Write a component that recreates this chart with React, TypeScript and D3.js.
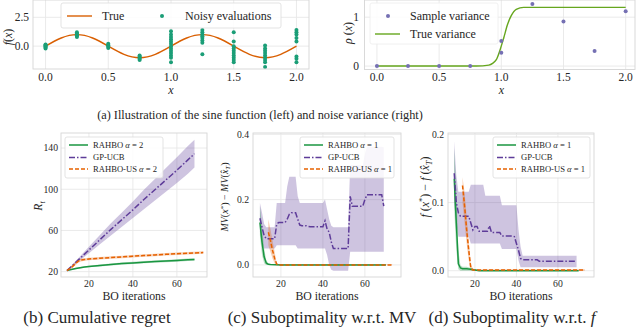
import React from "react";
import * as d3 from "d3";

const FONT = "'Liberation Serif', 'Times New Roman', serif";
const GRID = "#e8e8e8";
const SPINE = "#d6d6d6";
const TXT = "#262626";

// ---------------- (a) left: sine function ----------------
const sineX = [0, 0.125, 0.25, 0.375, 0.5, 0.625, 0.75, 0.875, 1.0, 1.125, 1.25, 1.375, 1.5, 1.625, 1.75, 1.875, 2.0];
const sineY = [0, 0.707, 1, 0.707, 0, -0.707, -1, -0.707, 0, 0.707, 1, 0.707, 0, -0.707, -1, -0.707, 0];
const noisyX = [0, 0.25, 0.5, 0.75, 1.0, 1.25, 1.5, 1.75, 2.0];
const noisyY = [
  [-0.2, -0.1, 0.0, 0.05, 0.1, 0.15],
  [0.8, 0.9, 0.95, 1.0, 1.1, 1.2],
  [-0.15, -0.05, 0.05, 0.1, 0.2],
  [-1.2, -1.1, -1.0, -0.9, -0.8],
  [1.3, 1.0, 0.8, 0.6, 0.4, 0.2, 0.0, -0.2, -0.4, -0.6, -0.8, -1.0, -1.4],
  [1.4, 1.2, 1.0, 0.85, 0.7, 0.5, 0.3, -0.7],
  [1.2, 0.4, 0.0, -0.2, -0.4, -0.6, -0.8, -1.0, -1.2, -1.4],
  [0.05, -0.2, -0.4, -0.6, -0.8, -1.0, -1.2, -1.4, -1.8],
  [1.4, 1.2, 1.0, 0.7, 0.4, -0.9, -1.1, -1.4],
];

// ---------------- (a) right: noise variance ----------------
const varX = [0, 0.25, 0.5, 0.75, 1.0, 1.0, 1.25, 1.5, 1.75, 2.0];
const varY = [0, 0, 0, 0, 0.51, 0.27, 1.27, 0.91, 0.31, 1.12];
const trueVarX = [0, 0.8, 0.9, 0.93, 0.96, 0.99, 1.02, 1.05, 1.08, 1.12, 1.18, 1.3, 2.0];
const trueVarY = [0, 0, 0.02, 0.055, 0.13, 0.33, 0.58, 0.85, 1.03, 1.16, 1.2, 1.2, 1.2];

// ---------------- (b) cumulative regret ----------------
const bIter = [10, 12, 14, 16, 18, 20, 25, 30, 35, 40, 45, 50, 55, 60, 65, 68];
const rahboB = [21, 22, 23, 23.8, 24.5, 25, 26, 27, 27.8, 28.5, 29.2, 29.8, 30.3, 30.8, 31.5, 31.8];
const rahboBLo = [21, 21.5, 22.3, 23, 23.7, 24.2, 25.1, 26, 26.8, 27.5, 28.1, 28.7, 29.2, 29.6, 30.3, 30.6];
const rahboBHi = [21, 22.5, 23.7, 24.6, 25.3, 25.8, 26.9, 28, 28.8, 29.5, 30.3, 30.9, 31.4, 32, 32.7, 33];
const gpB = [21, 25, 29, 33, 37, 41, 51, 61, 70.5, 80, 90, 99.5, 109, 118.5, 128.5, 134.5];
const gpBLo = [21, 24.3, 27.6, 31, 34.4, 37.8, 46.5, 55, 63.5, 72, 80.5, 89, 97.5, 106, 115, 121];
const gpBHi = [21, 25.7, 30.4, 35, 39.6, 44.2, 55.5, 67, 77.5, 88, 99.5, 110, 120.5, 131, 142, 148];
const usIterB = [10, 12, 14, 15, 16, 18, 20, 25, 30, 35, 40, 45, 50, 55, 60, 65, 72];
const usB = [21, 24, 28, 30, 31, 31.8, 32.3, 33, 33.7, 34.3, 35, 35.6, 36.2, 36.8, 37.4, 37.9, 38.5];
const usBLo = [21, 23, 26.5, 28.5, 29.6, 30.6, 31.1, 31.8, 32.5, 33.1, 33.8, 34.4, 35, 35.6, 36.2, 36.7, 37.3];
const usBHi = [21, 25, 29.5, 31.5, 32.4, 33, 33.5, 34.2, 34.9, 35.5, 36.2, 36.8, 37.4, 38, 38.6, 39.1, 39.7];

// ---------------- (c) suboptimality w.r.t. MV ----------------
const gpIterC = d3.range(10, 70);
const gpC = [0.143, 0.115, 0.09, 0.08, 0.08, 0.08, 0.08, 0.08, 0.125, 0.13, 0.13, 0.13, 0.13, 0.14, 0.155, 0.16, 0.16, 0.16, 0.14, 0.122,
  0.12, 0.12, 0.12, 0.118, 0.117, 0.117, 0.117, 0.117, 0.117, 0.117, 0.117, 0.135, 0.11, 0.1, 0.07, 0.05, 0.05, 0.05, 0.05, 0.05,
  0.05, 0.05, 0.05, 0.21, 0.18, 0.18, 0.18, 0.18, 0.18, 0.18, 0.2, 0.215, 0.215, 0.215, 0.215, 0.215, 0.215, 0.215, 0.215, 0.18];
const gpCLo = [0.1, 0.07, 0.05, 0.05, 0.05, 0.05, 0.05, 0.05, 0.06, 0.06, 0.06, 0.06, 0.06, 0.06, 0.06, 0.06, 0.06, 0.06, 0.05, 0.05,
  0.05, 0.05, 0.05, 0.05, 0.05, 0.05, 0.05, 0.05, 0.05, 0.05, 0.05, 0.05, 0.03, 0.0, -0.015, -0.018, -0.018, -0.018, -0.018, -0.018,
  -0.018, -0.018, -0.018, 0.04, 0.04, 0.04, 0.04, 0.04, 0.04, 0.04, 0.04, 0.04, 0.04, 0.04, 0.04, 0.04, 0.04, 0.04, 0.04, 0.04];
const gpCHi = [0.19, 0.16, 0.125, 0.115, 0.115, 0.115, 0.115, 0.115, 0.19, 0.19, 0.19, 0.19, 0.19, 0.24, 0.27, 0.27, 0.27, 0.27, 0.21, 0.19,
  0.19, 0.19, 0.19, 0.19, 0.19, 0.19, 0.19, 0.19, 0.19, 0.19, 0.19, 0.2, 0.17, 0.14, 0.12, 0.115, 0.115, 0.115, 0.115, 0.115,
  0.115, 0.115, 0.115, 0.305, 0.305, 0.305, 0.305, 0.305, 0.305, 0.305, 0.34, 0.362, 0.362, 0.362, 0.362, 0.362, 0.362, 0.362, 0.362, 0.36];
const rahboIterC = [10, 11, 12, 13, 14, 15, 20, 30, 40, 50, 60, 70];
const rahboC = [0.13, 0.07, 0.025, 0.006, 0.002, 0.001, 0, 0, 0, 0, 0, 0];
const rahboCLo = [0.09, 0.03, 0.005, 0, 0, 0, 0, 0, 0, 0, 0, 0];
const rahboCHi = [0.18, 0.12, 0.05, 0.015, 0.004, 0.002, 0.001, 0.001, 0.001, 0.001, 0.001, 0.001];
const usIterC = [14, 15, 16, 17, 18, 19, 20, 30, 40, 50, 60, 73];
const usC = [0.1, 0.075, 0.045, 0.02, 0.002, 0, 0, 0, 0, 0, 0, 0];
const usCLo = [0.06, 0.04, 0.02, 0.005, 0, 0, 0, 0, 0, 0, 0, 0];
const usCHi = [0.14, 0.11, 0.075, 0.04, 0.006, 0.002, 0.001, 0.001, 0.001, 0.001, 0.001, 0.001];

// ---------------- (d) suboptimality w.r.t. f ----------------
const gpIterD = d3.range(10, 70);
const gpD = [0.143, 0.1, 0.085, 0.08, 0.08, 0.08, 0.08, 0.08, 0.07, 0.06, 0.065, 0.065, 0.058, 0.058, 0.058, 0.058, 0.058, 0.066, 0.056, 0.056,
  0.056, 0.056, 0.056, 0.051, 0.051, 0.051, 0.051, 0.051, 0.051, 0.05, 0.04, 0.03, 0.018, 0.016, 0.016, 0.016, 0.016, 0.016, 0.016, 0.016,
  0.016, 0.014, 0.014, 0.014, 0.014, 0.014, 0.014, 0.014, 0.014, 0.014, 0.014, 0.014, 0.014, 0.014, 0.014, 0.014, 0.014, 0.014, 0.014, 0.014];
const gpDLo = [0.1, 0.07, 0.05, 0.05, 0.05, 0.05, 0.05, 0.05, 0.04, 0.04, 0.04, 0.04, 0.04, 0.04, 0.04, 0.04, 0.04, 0.04, 0.04, 0.04,
  0.04, 0.04, 0.04, 0.032, 0.032, 0.032, 0.032, 0.032, 0.032, 0.032, 0.032, 0.015, 0.005, 0.005, 0.005, 0.005, 0.005, 0.005, 0.005, 0.005,
  0.005, 0.005, 0.005, 0.005, 0.005, 0.005, 0.005, 0.005, 0.005, 0.005, 0.005, 0.005, 0.005, 0.005, 0.005, 0.005, 0.005, 0.005, 0.005, 0.005];
const gpDHi = [0.19, 0.14, 0.116, 0.116, 0.116, 0.116, 0.116, 0.116, 0.126, 0.126, 0.126, 0.126, 0.126, 0.126, 0.126, 0.11, 0.11, 0.11, 0.11, 0.11,
  0.11, 0.11, 0.11, 0.096, 0.096, 0.096, 0.096, 0.096, 0.096, 0.096, 0.096, 0.06, 0.035, 0.022, 0.022, 0.022, 0.022, 0.022, 0.022, 0.022,
  0.022, 0.022, 0.022, 0.022, 0.022, 0.022, 0.022, 0.022, 0.022, 0.022, 0.022, 0.022, 0.022, 0.022, 0.022, 0.022, 0.022, 0.022, 0.022, 0.022];
const rahboIterD = [10, 11, 12, 13, 14, 16, 18, 20, 22, 30, 40, 50, 60, 70];
const rahboD = [0.135, 0.07, 0.01, 0.004, 0.003, 0.003, 0.002, 0.001, 0, 0, 0, 0, 0, 0];
const rahboDLo = [0.09, 0.03, 0.002, 0, 0, 0, 0, 0, 0, 0, 0, 0, 0, 0];
const rahboDHi = [0.18, 0.12, 0.03, 0.008, 0.006, 0.006, 0.004, 0.002, 0.001, 0.001, 0.001, 0.001, 0.001, 0.001];
const usIterD = [14, 15, 16, 17, 18, 19, 20, 30, 40, 50, 60, 73];
const usD = [0.125, 0.095, 0.06, 0.03, 0.004, 0.001, 0.001, 0.001, 0.001, 0.001, 0.001, 0.001];
const usDLo = [0.1, 0.07, 0.04, 0.015, 0, 0, 0, 0, 0, 0, 0, 0];
const usDHi = [0.137, 0.115, 0.08, 0.045, 0.01, 0.003, 0.002, 0.002, 0.002, 0.002, 0.002, 0.002];

// colours
const C_TRUE = "#d95f02";
const C_NOISY = "#1b9e77";
const C_SVAR = "#7570b3";
const C_TVAR = "#66a61e";
const C_RAHBO = "#1a9641";
const C_GP = "#5e3c99";
const C_US = "#e66101";
const DASH_GP = "6,2,1.5,2";
const DASH_US = "4,2";

type Box = { l: number; t: number; r: number; b: number };
type Sc = d3.ScaleLinear<number, number>;

function Grid({ box, x, y, xt, yt }: { box: Box; x: Sc; y: Sc; xt: number[]; yt: number[] }) {
  return (
    <g>
      <rect x={box.l} y={box.t} width={box.r - box.l} height={box.b - box.t} fill="#fff" />
      {xt.map((v) => (
        <line key={"gx" + v} x1={x(v)} x2={x(v)} y1={box.t} y2={box.b} stroke={GRID} strokeWidth={0.9} />
      ))}
      {yt.map((v) => (
        <line key={"gy" + v} x1={box.l} x2={box.r} y1={y(v)} y2={y(v)} stroke={GRID} strokeWidth={0.9} />
      ))}
    </g>
  );
}

function Ticks({ box, x, y, xt, yt, xf, yf, fs, xBase, yRight }: {
  box: Box; x: Sc; y: Sc; xt: number[]; yt: number[]; xf: (v: number) => string; yf: (v: number) => string; fs: number; xBase: number; yRight: number;
}) {
  return (
    <g fontFamily={FONT} fontSize={fs} fill={TXT}>
      <rect x={box.l} y={box.t} width={box.r - box.l} height={box.b - box.t} fill="none" stroke={SPINE} strokeWidth={0.9} />
      {xt.map((v) => (
        <text key={"tx" + v} x={x(v)} y={xBase} textAnchor="middle">{xf(v)}</text>
      ))}
      {yt.map((v) => (
        <text key={"ty" + v} x={yRight} y={y(v)} dy="0.34em" textAnchor="end">{yf(v)}</text>
      ))}
    </g>
  );
}

function Band({ xs, lo, hi, x, y, color }: { xs: number[]; lo: number[]; hi: number[]; x: Sc; y: Sc; color: string }) {
  const area = d3.area<number>().x((_, i) => x(xs[i])).y0((_, i) => y(lo[i])).y1((_, i) => y(hi[i]));
  return <path d={area(xs) || ""} fill={color} fillOpacity={0.3} stroke="none" />;
}

function Line({ xs, ys, x, y, color, dash, w = 1.5, curve }: { xs: number[]; ys: number[]; x: Sc; y: Sc; color: string; dash?: string; w?: number; curve?: d3.CurveFactory }) {
  const ln = d3.line<number>().x((_, i) => x(xs[i])).y((_, i) => y(ys[i]));
  if (curve) ln.curve(curve);
  return <path d={ln(xs) || ""} fill="none" stroke={color} strokeWidth={w} strokeDasharray={dash} />;
}

function BottomLegend({ x0, y0, w, h, alpha }: { x0: number; y0: number; w: number; h: number; alpha: string }) {
  const items = [
    { label: "RAHBO", color: C_RAHBO, dash: undefined as string | undefined, a: true },
    { label: "GP-UCB", color: C_GP, dash: DASH_GP, a: false },
    { label: "RAHBO-US", color: C_US, dash: DASH_US, a: true },
  ];
  const rows = [8, 20.5, 32];
  return (
    <g fontFamily={FONT} fontSize={8.6} fill={TXT}>
      <rect x={x0} y={y0} width={w} height={h} rx={2} fill="#fff" fillOpacity={0.85} stroke="#dcdcdc" strokeWidth={0.8} />
      {items.map((it, i) => (
        <g key={it.label}>
          <line x1={x0 + 4} x2={x0 + 23} y1={y0 + rows[i]} y2={y0 + rows[i]} stroke={it.color} strokeWidth={1.5} strokeDasharray={it.dash} />
          <text x={x0 + 28} y={y0 + rows[i]} dy="0.34em">
            {it.label}
            {it.a ? (
              <>
                {" "}
                <tspan fontStyle="italic">α</tspan>
                <tspan>{" = " + alpha}</tspan>
              </>
            ) : null}
          </text>
        </g>
      ))}
    </g>
  );
}

export default function App() {
  // ---- (a) left
  const boxA: Box = { l: 33, t: 0, r: 309, b: 69 };
  const xA = d3.scaleLinear().domain([-0.1, 2.1]).range([boxA.l, boxA.r]);
  const yA = d3.scaleLinear().domain([-1.98, 4.0]).range([boxA.b, boxA.t]);
  const xtA = [0, 0.5, 1, 1.5, 2];
  const ytA = [0, 2.5];

  // ---- (a) right
  const boxR: Box = { l: 364.5, t: 0, r: 635, b: 69.5 };
  const xR = d3.scaleLinear().domain([-0.1, 2.075]).range([boxR.l, boxR.r]);
  const yR = d3.scaleLinear().domain([-0.07, 1.35]).range([boxR.b, boxR.t]);
  const ytR = [0, 1];

  // ---- (b)
  const boxB: Box = { l: 61, t: 133, r: 207, b: 277 };
  const xB = d3.scaleLinear().domain([7.3, 73.7]).range([boxB.l, boxB.r]);
  const yB = d3.scaleLinear().domain([14.8, 154.6]).range([boxB.b, boxB.t]);
  const xtB = [20, 40, 60];
  const ytB = [20, 60, 100, 140];

  // ---- (c)
  const boxC: Box = { l: 253, t: 133, r: 401, b: 277 };
  const xC = d3.scaleLinear().domain([6.7, 77.2]).range([boxC.l, boxC.r]);
  const yC = d3.scaleLinear().domain([-0.037, 0.404]).range([boxC.b, boxC.t]);
  const ytC = [0, 0.2, 0.4];

  // ---- (d)
  const boxD: Box = { l: 448, t: 133, r: 594, b: 277 };
  const xD = d3.scaleLinear().domain([7, 77.4]).range([boxD.l, boxD.r]);
  const yD = d3.scaleLinear().domain([-0.0092, 0.202]).range([boxD.b, boxD.t]);
  const ytD = [0, 0.1, 0.2];

  const f1 = (v: number) => v.toFixed(1);
  const f0 = (v: number) => String(v);

  return (
    <svg width={640} height={328} viewBox="0 0 640 328" style={{ position: "absolute", left: 0, top: 0, background: "#fff" }}>
      <rect width={640} height={328} fill="#fff" />

      {/* ===== (a) left ===== */}
      <Grid box={boxA} x={xA} y={yA} xt={xtA} yt={ytA} />
      <Line xs={sineX} ys={sineY} x={xA} y={yA} color={C_TRUE} w={1.4} curve={d3.curveNatural} />
      {noisyX.map((xv, i) =>
        noisyY[i].map((yv, j) => <circle key={`n${i}-${j}`} cx={xA(xv)} cy={yA(yv)} r={2} fill={C_NOISY} />)
      )}
      <Ticks box={boxA} x={xA} y={yA} xt={xtA} yt={ytA} xf={f1} yf={f1} fs={11.5} xBase={81} yRight={29} />
      <g fontFamily={FONT} fill={TXT}>
        <rect x={61} y={3} width={220} height={25} rx={2} fill="#fff" fillOpacity={0.85} stroke="#dcdcdc" strokeWidth={0.8} />
        <line x1={67} x2={92} y1={16} y2={16} stroke={C_TRUE} strokeWidth={1.4} />
        <text x={102} y={16} dy="0.34em" fontSize={12}>True</text>
        <circle cx={162} cy={16} r={2} fill={C_NOISY} />
        <text x={185} y={16} dy="0.34em" fontSize={12}>Noisy evaluations</text>
        <text x={xA(1)} y={94} textAnchor="middle" fontSize={12} fontStyle="italic">x</text>
        <text transform="translate(12,37) rotate(-90)" textAnchor="middle" fontSize={12}>
          <tspan fontStyle="italic">f</tspan>(<tspan fontStyle="italic">x</tspan>)
        </text>
      </g>

      {/* ===== (a) right ===== */}
      <Grid box={boxR} x={xR} y={yR} xt={xtA} yt={ytR} />
      <Line xs={trueVarX} ys={trueVarY} x={xR} y={yR} color={C_TVAR} w={1.4} curve={d3.curveMonotoneX} />
      {varX.map((xv, i) => (
        <circle key={"v" + i} cx={xR(xv)} cy={yR(varY[i])} r={2} fill={C_SVAR} />
      ))}
      <Ticks box={boxR} x={xR} y={yR} xt={xtA} yt={ytR} xf={f1} yf={f0} fs={11.5} xBase={81} yRight={359} />
      <g fontFamily={FONT} fill={TXT}>
        <rect x={370} y={3} width={128} height={41} rx={2} fill="#fff" fillOpacity={0.85} stroke="#ececec" strokeWidth={0.8} />
        <circle cx={388} cy={16} r={2} fill={C_SVAR} />
        <text x={410} y={16} dy="0.34em" fontSize={12}>Sample variance</text>
        <line x1={375} x2={400} y1={34} y2={34} stroke={C_TVAR} strokeWidth={1.4} />
        <text x={410} y={34} dy="0.34em" fontSize={12}>True variance</text>
        <text x={xR(1)} y={94} textAnchor="middle" fontSize={12} fontStyle="italic">x</text>
        <text transform="translate(352,33) rotate(-90)" textAnchor="middle" fontSize={12}>
          <tspan fontStyle="italic">ρ</tspan> (<tspan fontStyle="italic">x</tspan>)
        </text>
      </g>

      <text x={260} y={119} textAnchor="middle" fontFamily={FONT} fontSize={12.3} fill={TXT}>
        (a) Illustration of the sine function (left) and noise variance (right)
      </text>

      {/* ===== (b) ===== */}
      <Grid box={boxB} x={xB} y={yB} xt={xtB} yt={ytB} />
      <Band xs={bIter} lo={gpBLo} hi={gpBHi} x={xB} y={yB} color={C_GP} />
      <Band xs={bIter} lo={rahboBLo} hi={rahboBHi} x={xB} y={yB} color={C_RAHBO} />
      <Band xs={usIterB} lo={usBLo} hi={usBHi} x={xB} y={yB} color={C_US} />
      <Line xs={bIter} ys={rahboB} x={xB} y={yB} color={C_RAHBO} />
      <Line xs={bIter} ys={gpB} x={xB} y={yB} color={C_GP} dash={DASH_GP} />
      <Line xs={usIterB} ys={usB} x={xB} y={yB} color={C_US} dash={DASH_US} />
      <Ticks box={boxB} x={xB} y={yB} xt={xtB} yt={ytB} xf={f0} yf={f0} fs={9.7} xBase={287} yRight={58} />
      <BottomLegend x0={65} y0={137} w={98} h={41} alpha="2" />

      {/* ===== (c) ===== */}
      <Grid box={boxC} x={xC} y={yC} xt={xtB} yt={ytC} />
      <Band xs={gpIterC} lo={gpCLo} hi={gpCHi} x={xC} y={yC} color={C_GP} />
      <Band xs={rahboIterC} lo={rahboCLo} hi={rahboCHi} x={xC} y={yC} color={C_RAHBO} />
      <Band xs={usIterC} lo={usCLo} hi={usCHi} x={xC} y={yC} color={C_US} />
      <Line xs={rahboIterC} ys={rahboC} x={xC} y={yC} color={C_RAHBO} />
      <Line xs={gpIterC} ys={gpC} x={xC} y={yC} color={C_GP} dash={DASH_GP} />
      <Line xs={usIterC} ys={usC} x={xC} y={yC} color={C_US} dash={DASH_US} />
      <Ticks box={boxC} x={xC} y={yC} xt={xtB} yt={ytC} xf={f0} yf={f1} fs={9.7} xBase={287} yRight={249} />
      <BottomLegend x0={300} y0={137} w={94} h={41} alpha="1" />

      {/* ===== (d) ===== */}
      <Grid box={boxD} x={xD} y={yD} xt={xtB} yt={ytD} />
      <Band xs={gpIterD} lo={gpDLo} hi={gpDHi} x={xD} y={yD} color={C_GP} />
      <Band xs={rahboIterD} lo={rahboDLo} hi={rahboDHi} x={xD} y={yD} color={C_RAHBO} />
      <Band xs={usIterD} lo={usDLo} hi={usDHi} x={xD} y={yD} color={C_US} />
      <Line xs={rahboIterD} ys={rahboD} x={xD} y={yD} color={C_RAHBO} />
      <Line xs={gpIterD} ys={gpD} x={xD} y={yD} color={C_GP} dash={DASH_GP} />
      <Line xs={usIterD} ys={usD} x={xD} y={yD} color={C_US} dash={DASH_US} />
      <Ticks box={boxD} x={xD} y={yD} xt={xtB} yt={ytD} xf={f0} yf={f1} fs={9.7} xBase={287} yRight={444} />
      <BottomLegend x0={493} y0={137} w={97} h={41} alpha="1" />

      {/* bottom axis labels & captions */}
      <g fontFamily={FONT} fill={TXT}>
        <text x={(boxB.l + boxB.r) / 2} y={299.5} textAnchor="middle" fontSize={11.8}>BO iterations</text>
        <text x={(boxC.l + boxC.r) / 2} y={299.5} textAnchor="middle" fontSize={11.8}>BO iterations</text>
        <text x={(boxD.l + boxD.r) / 2} y={299.5} textAnchor="middle" fontSize={11.8}>BO iterations</text>

        <text transform="translate(42,206) rotate(-90)" textAnchor="middle" fontSize={11.5}>
          <tspan fontStyle="italic">R</tspan><tspan fontStyle="italic" fontSize={8} dy={2.5}>t</tspan>
        </text>
        <text transform="translate(228,197) rotate(-90)" textAnchor="middle" fontSize={10}>
          <tspan fontStyle="italic">MV</tspan>(<tspan fontStyle="italic">x</tspan>
          <tspan fontSize={7} dy={-3.5}>*</tspan>
          <tspan dy={3.5}>) − </tspan>
          <tspan fontStyle="italic">MV</tspan>(<tspan fontStyle="italic">x̂</tspan>
          <tspan fontStyle="italic" fontSize={7} dy={2}>T</tspan>
          <tspan dy={-2}>)</tspan>
        </text>
        <text transform="translate(429,187) rotate(-90)" textAnchor="middle" fontSize={12}>
          <tspan fontStyle="italic">f</tspan> (<tspan fontStyle="italic">x</tspan>
          <tspan fontSize={8.5} dy={-4}>*</tspan>
          <tspan dy={4}>)  −  </tspan>
          <tspan fontStyle="italic">f</tspan> (<tspan fontStyle="italic">x̂</tspan>
          <tspan fontStyle="italic" fontSize={8.5} dy={2.5}>T</tspan>
          <tspan dy={-2.5}>)</tspan>
        </text>

        <text x={97} y={323} textAnchor="middle" fontSize={17}>(b) Cumulative regret</text>
        <text x={322} y={323} textAnchor="middle" fontSize={17}>(c) Suboptimality w.r.t. MV</text>
        <text x={512} y={323} textAnchor="middle" fontSize={17}>
          (d) Suboptimality w.r.t. <tspan fontStyle="italic">f</tspan>
        </text>
      </g>
    </svg>
  );
}
